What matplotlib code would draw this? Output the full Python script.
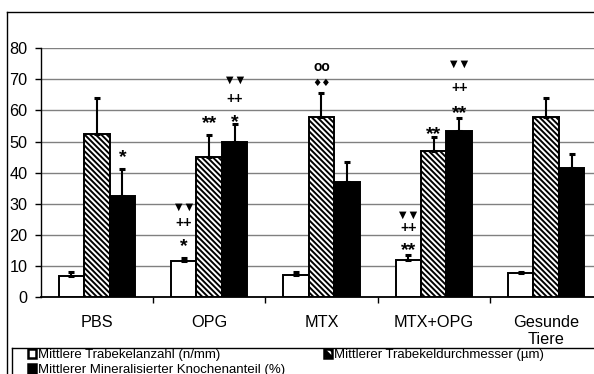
import matplotlib
matplotlib.use("Agg")
from matplotlib import pyplot as plt
from matplotlib.lines import Line2D
from matplotlib.patches import Patch
from matplotlib.legend_handler import HandlerTuple
import numpy as np

plt.rcParams['font.family'] = ['Liberation Sans', 'DejaVu Sans']
plt.rcParams['hatch.linewidth'] = 1.4

groups = ["PBS", "OPG", "MTX", "MTX+OPG", "Gesunde\nTiere"]

# Mittelwerte und obere Fehlerbalken (SD)
anzahl = [6.9, 11.6, 7.1, 11.9, 7.6]
anzahl_err = [1.0, 1.0, 0.8, 1.5, 0.5]
durchmesser = [52.5, 44.9, 58.0, 47.0, 57.9]
durchmesser_err = [11.6, 7.2, 7.7, 4.5, 6.2]
anteil = [32.6, 49.9, 37.1, 53.5, 41.4]
anteil_err = [8.7, 5.9, 6.4, 4.2, 4.5]

legend_labels = ["Mittlere Trabekelanzahl (n/mm)",
                 "Mittlerer Trabekeldurchmesser (µm)",
                 "Mittlerer Mineralisierter Knochenanteil (%)"]

# Signifikanzzeichen: (Gruppe, Serie, Text, y)
marks = [
    (0, 2, "*", 46.7),
    (1, 0, "▼ ▼", 28.9), (1, 0, "++", 23.8), (1, 0, "*", 18.3),
    (1, 1, "**", 57.9),
    (1, 2, "▼ ▼", 69.8), (1, 2, "++", 63.7), (1, 2, "*", 58.2),
    (2, 1, "oo", 74.0), (2, 1, "♦♦", 68.8),
    (3, 0, "▼ ▼", 26.4), (3, 0, "++", 22.2), (3, 0, "**", 17.0),
    (3, 1, "**", 54.3),
    (3, 2, "▼ ▼", 74.9), (3, 2, "++", 67.2), (3, 2, "**", 61.1),
]

W, H = 594, 374
fig = plt.figure(figsize=(W / 100, H / 100), dpi=100)
ax = fig.add_axes([40.7 / W, (H - 297) / H, 561.5 / W, 248.7 / H])

x = np.arange(len(groups))
bw = 0.227
err_kw = dict(elinewidth=1.5, capsize=2.4, capthick=2.2, ecolor='black')

series = [(anzahl, anzahl_err, dict(color='white')),
          (durchmesser, durchmesser_err, dict(color='white', hatch='\\' * 6)),
          (anteil, anteil_err, dict(color='black'))]
for k, (vals, errs, style) in enumerate(series):
    ax.bar(x + (k - 1) * bw, vals, bw, edgecolor='black', linewidth=1.4,
           yerr=[np.zeros(len(errs)), errs], error_kw=err_kw, zorder=3, **style)

for g, s, txt, y in marks:
    if txt.startswith("▼"):
        kw = dict(fontsize=7, family='DejaVu Sans')
    elif txt == "♦♦":
        kw = dict(fontsize=7.5, family='DejaVu Sans')
    elif "*" in txt:
        kw = dict(fontsize=14, fontweight='bold')
        y -= 2.0
    else:
        kw = dict(fontsize=10, fontweight='bold')
    ax.text(g + (s - 1) * bw, y, txt, ha='center', va='center', zorder=4, **kw)

ax.set_xlim(-0.5, len(groups) - 0.5)
ax.set_ylim(0, 80)
ax.set_yticks(range(0, 81, 10))
ax.yaxis.grid(True, color='#808080', linewidth=1.0, zorder=0)
ax.set_axisbelow(True)
ax.tick_params(axis='y', labelsize=11.7, length=4, width=1.0, pad=5.5)
ax.set_xticks(np.arange(0.5, len(groups) - 0.5, 1.0))
ax.set_xticklabels([])
ax.tick_params(axis='x', length=4.5, width=1.0)
for sp in ['top', 'right']:
    ax.spines[sp].set_visible(False)
ax.spines['left'].set_linewidth(1.0)
ax.spines['bottom'].set_linewidth(1.3)

for i, g in enumerate(groups):
    ax.text(i, -0.074, g, transform=ax.get_xaxis_transform(), ha='center',
            va='top', fontsize=11.7, linespacing=1.15)

# Rahmen um Diagramm und Legende
def px_line(xs, ys, lw=1.0):
    fig.add_artist(Line2D([v / W for v in xs], [1 - v / H for v in ys],
                          color='black', linewidth=lw, transform=fig.transFigure))

px_line([7.3, W], [12.3, 12.3])
px_line([7.3, 7.3], [12.3, H])
px_line([12, W], [347.5, 347.5])
px_line([12, 12], [347.5, H])

h_white = Patch(facecolor='white', edgecolor='black', linewidth=1.8)
h_black = Patch(facecolor='black', edgecolor='black', linewidth=1.8)
# schwarzes Kaestchen mit weissem Schraegstrich
h_hatch = (Patch(facecolor='black', edgecolor='white', hatch='\\\\\\', linewidth=0),
           Patch(facecolor='none', edgecolor='black', linewidth=1.8))
leg_kw = dict(frameon=False, fontsize=9.5, handlelength=0.6, handleheight=0.6,
              handletextpad=0.15, borderpad=0, borderaxespad=0, labelspacing=0.25,
              loc='upper left')
fig.legend([h_white, h_black], [legend_labels[0], legend_labels[2]],
           bbox_to_anchor=(28 / W, 1 - 349 / H), **leg_kw)
fig.legend([h_hatch], [legend_labels[1]], bbox_to_anchor=(324 / W, 1 - 349 / H),
           handler_map={tuple: HandlerTuple(ndivide=1, pad=0)}, **leg_kw)

fig.savefig("out.png", dpi=100)
